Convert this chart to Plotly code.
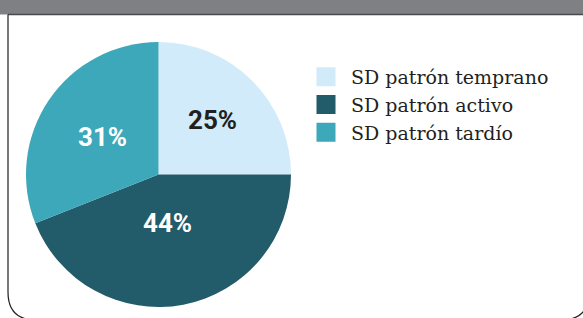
import math
import plotly.graph_objects as go

labels = ["SD patrón temprano", "SD patrón activo", "SD patrón tardío"]
values = [25, 44, 31]
pct_labels = ["25%", "44%", "31%"]
colors = ["#D1EBFA", "#225B69", "#3DA8BA"]
text_colors = ["#231F20", "#FFFFFF", "#FFFFFF"]
label_radius = [0.58, 0.37, 0.51]  # fraction of pie radius for each label

W, H = 583, 318


def px(x):
    return x / W


def py(y):
    return 1 - y / H


# pie geometry (pixels)
PX0, PX1, PY0, PY1 = 26, 291, 42, 307
CX, CY, R = (PX0 + PX1) / 2, (PY0 + PY1) / 2, (PX1 - PX0) / 2

fig = go.Figure()

fig.add_trace(go.Pie(
    labels=labels,
    values=values,
    sort=False,
    direction="clockwise",
    rotation=0,
    marker=dict(colors=colors, line=dict(width=0)),
    textinfo="none",
    domain=dict(x=[px(PX0), px(PX1)], y=[py(PY1), py(PY0)]),
    showlegend=False,
    hoverinfo="label+percent",
))

for lab, col in zip(labels, colors):
    fig.add_trace(go.Scatter(
        x=[None], y=[None], mode="markers", name=lab,
        marker=dict(symbol="square", size=16, color=col, line=dict(width=3, color=col)),
        showlegend=True,
    ))

# percentage labels placed at each slice's mid-angle
annotations = []
total = sum(values)
cum = 0
for v, t, tc, f in zip(values, pct_labels, text_colors, label_radius):
    theta = math.radians(360 * (cum + v / 2) / total)
    cum += v
    x = CX + f * R * math.sin(theta)
    y = CY - f * R * math.cos(theta)
    annotations.append(dict(
        x=px(x), y=py(y), xref="paper", yref="paper", text=t, showarrow=False,
        xanchor="center", yanchor="middle",
        font=dict(family="Roboto", size=26, color=tc, weight="bold"),
    ))

# header bar and frame
shapes = [
    dict(type="rect", xref="paper", yref="paper", x0=0, x1=1, y0=py(14.5), y1=1,
         fillcolor="#7F8084", line=dict(width=0), layer="below"),
    dict(type="line", xref="paper", yref="paper", x0=px(8), x1=1, y0=py(14.5), y1=py(14.5),
         line=dict(color="#4A4A4C", width=1.5)),
    dict(type="path", xref="paper", yref="paper",
         path=(f"M {px(8)},{py(14.5)} L {px(8)},{py(292)} "
               f"Q {px(8)},{py(320)} {px(36)},{py(320)} "
               f"L {px(561)},{py(320)} Q {px(589)},{py(320)} {px(589)},{py(292)} "
               f"L {px(589)},{py(14.5)}"),
         line=dict(color="#231F20", width=1.2)),
]

fig.update_layout(
    width=W, height=H,
    margin=dict(l=0, r=0, t=0, b=0),
    paper_bgcolor="white",
    plot_bgcolor="white",
    xaxis=dict(visible=False),
    yaxis=dict(visible=False),
    shapes=shapes,
    annotations=annotations,
    legend=dict(
        x=px(301), y=py(58), xanchor="left", yanchor="top",
        font=dict(family="DejaVu Serif", size=19, color="#231F20"),
        bgcolor="rgba(0,0,0,0)",
        tracegroupgap=0,
        itemwidth=40,
    ),
)

fig.write_html("out.html", config={"displayModeBar": False},
               post_script="document.body.style.margin='0';")
